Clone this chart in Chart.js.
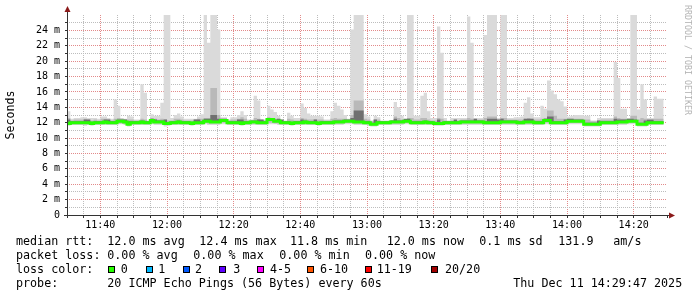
<!DOCTYPE html>
<html>
<head>
<meta charset="utf-8">
<script src="https://cdn.jsdelivr.net/npm/chart.js@4/dist/chart.umd.min.js"></script>
<style>
  html, body { margin: 0; padding: 0; background: #fff; }
  #wrap { position: relative; width: 697px; height: 297px; overflow: hidden; }
  #chart { position: absolute; left: 0; top: 0; }
  .t { position: absolute; font-family: 'DejaVu Sans Mono', monospace; font-size: 11.7px; line-height: 14px; height: 14px; color: #000; white-space: pre; }
  .box { position: absolute; width: 5px; height: 5px; border: 1px solid #000; }
  #wm { position: absolute; left: 693px; top: 5px; transform-origin: 0 0; transform: rotate(90deg);
        font-family: 'DejaVu Sans Mono', monospace; font-size: 8.3px; line-height: 10px; color: #b4b4b4; white-space: pre; }
</style>
</head>
<body>
<div id="wrap">
  <canvas id="chart" width="697" height="297"></canvas>
  <div id="legend"></div>
  <div id="wm">RRDTOOL / TOBI OETIKER</div>
</div>
<script>
// ---------- data (one value per minute, starting 11:30) ----------
const startTime = '11:30';
const xTickLabels = ['11:40','12:00','12:20','12:40','13:00','13:20','13:40','14:00','14:20'];
const yTickLabels = ['0','2 m','4 m','6 m','8 m','10 m','12 m','14 m','16 m','18 m','20 m','22 m','24 m'];

const medianRtt = [
  11.9,11.9,12.0,12.0,12.0,12.0,12.0,12.0,11.9,12.0,
  12.0,12.0,12.1,12.0,12.0,12.0,12.2,12.2,12.1,11.8,
  12.0,12.0,12.0,12.1,12.0,12.0,12.3,12.1,12.1,12.1,
  11.9,11.9,12.0,12.0,12.1,12.0,12.0,12.0,11.9,12.0,
  12.0,12.0,12.2,12.2,12.1,12.1,12.1,12.3,12.3,12.0,
  12.0,12.0,12.0,11.9,12.0,12.0,12.1,12.1,12.0,12.0,
  12.0,12.4,12.4,12.2,12.2,12.0,12.0,12.0,11.9,12.0,
  12.0,12.0,12.1,12.0,12.0,12.0,11.9,12.0,12.0,12.0,
  12.0,12.1,12.1,12.1,12.2,12.2,12.2,12.1,12.1,12.1,
  12.0,12.0,11.8,11.8,12.0,12.0,12.0,12.0,12.1,12.1,
  12.1,12.1,12.2,12.2,12.0,12.0,12.0,12.0,12.1,12.0,
  12.0,11.9,11.9,11.9,12.0,12.0,12.0,12.0,12.0,12.1,
  12.1,12.1,12.1,12.1,12.1,12.1,12.0,12.0,12.0,12.0,
  12.0,12.1,12.1,12.1,12.1,12.1,12.0,12.0,12.1,12.1,
  12.1,12.0,12.0,12.0,12.3,12.3,12.0,12.0,12.0,12.0,
  12.0,12.2,12.2,12.2,12.2,12.2,11.8,11.8,11.8,11.8,
  11.8,12.0,12.0,12.0,12.0,12.0,12.1,12.1,12.1,12.2,
  12.2,12.2,11.8,11.8,11.8,12.0,12.0,12.0,12.0
];
const pingMax = [
  13.8,13.5,12.5,12.6,12.6,12.7,12.7,12.6,12.6,12.6,
  12.5,12.8,12.8,12.6,12.5,15.0,14.2,12.6,12.5,12.9,
  12.8,12.4,12.4,17.0,15.9,12.3,13.1,12.9,12.9,14.6,
  26,26,12.6,13.0,13.2,12.8,12.5,12.5,12.5,12.5,
  12.8,13.1,26,22.4,26,26,24.1,12.7,12.7,12.4,
  12.7,12.7,13.0,13.5,13.0,12.4,12.4,15.5,14.9,12.4,
  12.4,14.2,13.7,13.4,12.9,12.3,12.3,13.3,12.9,12.6,
  12.6,14.5,13.9,13.2,12.9,12.9,12.9,12.8,12.4,12.4,
  13.5,14.6,14.2,13.7,13.0,12.5,24.1,26,26,26,
  13.1,12.8,12.3,12.9,12.7,12.3,12.3,12.3,12.3,14.7,
  14.0,12.9,12.3,26,26,12.9,12.9,15.5,15.9,13.5,
  12.6,12.6,24.5,21.1,12.6,12.3,12.6,12.6,12.6,12.6,
  12.6,25.8,22.4,12.6,12.6,12.6,23.4,26,26,26,
  12.6,26,26,12.6,12.6,12.7,12.7,12.8,14.6,15.3,
  13.2,12.7,12.7,14.2,13.8,17.5,16.2,15.7,15.0,14.8,
  14.1,12.8,12.9,13.0,13.0,13.0,12.9,12.9,12.3,12.3,
  12.6,12.6,12.6,12.6,12.6,19.9,17.8,13.8,13.8,12.6,
  26,26,13.7,17.0,15.0,12.6,12.6,15.4,15.1
];
const pingMin = [
  11.6,11.6,11.7,11.7,11.7,11.7,11.6,11.7,11.6,11.7,
  11.7,11.7,11.7,11.7,11.7,11.7,11.8,11.8,11.7,11.5,
  11.7,11.7,11.7,11.7,11.7,11.7,11.8,11.7,11.7,11.7,
  11.5,11.6,11.7,11.7,11.7,11.7,11.7,11.7,11.6,11.7,
  11.7,11.7,11.8,11.7,11.7,11.7,11.7,11.8,11.8,11.7,
  11.7,11.7,11.7,11.6,11.7,11.7,11.7,11.7,11.7,11.7,
  11.7,11.8,11.8,11.8,11.7,11.7,11.7,11.7,11.6,11.7,
  11.7,11.7,11.7,11.7,11.7,11.7,11.6,11.7,11.7,11.7,
  11.7,11.7,11.7,11.7,11.8,11.8,11.8,11.7,11.7,11.7,
  11.7,11.6,11.5,11.5,11.7,11.7,11.7,11.7,11.7,11.7,
  11.7,11.7,11.8,11.8,11.7,11.7,11.7,11.7,11.7,11.7,
  11.7,11.6,11.6,11.6,11.7,11.7,11.7,11.7,11.7,11.7,
  11.7,11.7,11.7,11.7,11.7,11.7,11.7,11.7,11.7,11.7,
  11.7,11.7,11.7,11.7,11.7,11.7,11.7,11.7,11.7,11.7,
  11.7,11.7,11.7,11.7,11.8,11.8,11.7,11.7,11.7,11.7,
  11.7,11.8,11.8,11.8,11.8,11.8,11.5,11.5,11.5,11.5,
  11.5,11.7,11.7,11.7,11.7,11.7,11.7,11.7,11.7,11.8,
  11.8,11.8,11.5,11.5,11.5,11.7,11.7,11.7,11.7
];
const smokeHigh = [
  12.6,12.6,12.3,12.4,12.4,12.4,12.5,12.4,12.3,12.4,
  12.3,12.5,12.5,12.4,12.3,12.5,12.6,12.5,12.4,12.4,
  12.4,12.3,12.3,12.5,12.4,12.2,12.6,12.5,12.4,12.5,
  12.4,12.3,12.3,12.5,12.5,12.4,12.3,12.3,12.3,12.4,
  12.5,12.5,12.6,12.6,16.5,16.5,13.0,12.5,12.5,12.3,
  12.4,12.4,12.5,12.7,12.5,12.3,12.3,12.6,12.5,12.3,
  12.3,12.7,12.6,12.5,12.5,12.2,12.2,12.5,12.4,12.3,
  12.3,12.6,12.5,12.4,12.4,12.4,12.4,12.4,12.3,12.3,
  12.5,12.6,12.5,12.5,12.5,12.4,13.0,14.9,14.9,14.9,
  12.5,12.4,12.2,12.4,12.4,12.2,12.2,12.2,12.3,12.8,
  12.6,12.4,12.4,12.6,12.6,12.4,12.4,12.6,12.6,12.4,
  12.3,12.3,12.6,12.5,12.3,12.2,12.3,12.3,12.3,12.4,
  12.4,12.6,12.5,12.4,12.4,12.4,12.6,12.8,12.8,12.8,
  12.4,12.6,12.6,12.4,12.4,12.4,12.4,12.4,12.5,12.6,
  12.5,12.4,12.4,12.5,12.6,13.6,13.6,12.9,12.5,12.5,
  12.5,12.5,12.5,12.5,12.5,12.5,12.4,12.4,12.2,12.2,
  12.3,12.4,12.4,12.4,12.4,12.8,12.6,12.5,12.5,12.4,
  12.9,12.9,12.4,12.6,12.5,12.3,12.3,12.5,12.5
];
const smokeLow = [
  11.7,11.7,11.8,11.8,11.8,11.8,11.8,11.8,11.7,11.8,
  11.8,11.8,11.9,11.8,11.8,11.8,11.9,11.9,11.8,11.6,
  11.8,11.8,11.8,11.9,11.8,11.8,12.0,11.9,11.9,11.9,
  11.7,11.7,11.8,11.8,11.9,11.8,11.8,11.8,11.7,11.8,
  11.8,11.8,12.0,11.9,11.9,11.9,11.9,12.0,12.0,11.8,
  11.8,11.8,11.8,11.7,11.8,11.8,11.9,11.9,11.8,11.8,
  11.8,12.0,12.0,11.9,11.9,11.8,11.8,11.8,11.7,11.8,
  11.8,11.8,11.9,11.8,11.8,11.8,11.7,11.8,11.8,11.8,
  11.8,11.9,11.9,11.9,12.0,12.0,12.0,11.9,11.9,11.9,
  11.8,11.8,11.6,11.6,11.8,11.8,11.8,11.8,11.9,11.9,
  11.9,11.9,12.0,12.0,11.8,11.8,11.8,11.8,11.9,11.8,
  11.8,11.7,11.7,11.7,11.8,11.8,11.8,11.8,11.8,11.9,
  11.9,11.9,11.9,11.9,11.9,11.9,11.8,11.8,11.8,11.8,
  11.8,11.9,11.9,11.9,11.9,11.9,11.8,11.8,11.9,11.9,
  11.9,11.8,11.8,11.8,12.0,12.0,11.8,11.8,11.8,11.8,
  11.8,12.0,12.0,12.0,12.0,12.0,11.6,11.6,11.6,11.6,
  11.6,11.8,11.8,11.8,11.8,11.8,11.9,11.9,11.9,12.0,
  12.0,12.0,11.6,11.6,11.6,11.8,11.8,11.8,11.8
];
const smokeCore = [
  12.4,12.4,12.2,12.2,12.2,12.2,12.4,12.4,12.1,12.2,
  12.2,12.2,12.4,12.4,12.2,12.2,12.4,12.4,12.4,12.2,
  12.2,12.2,12.2,12.3,12.2,12.2,12.5,12.4,12.3,12.3,
  12.4,12.1,12.2,12.2,12.3,12.2,12.2,12.2,12.1,12.4,
  12.4,12.2,12.5,12.5,13.0,13.0,12.5,12.5,12.5,12.2,
  12.2,12.2,12.4,12.4,12.2,12.2,12.3,12.3,12.4,12.4,
  12.2,12.6,12.6,12.4,12.5,12.4,12.2,12.2,12.1,12.2,
  12.2,12.4,12.3,12.2,12.2,12.4,12.1,12.2,12.2,12.2,
  12.2,12.3,12.3,12.3,12.4,12.4,12.6,13.6,13.6,13.6,
  12.2,12.2,12.0,12.4,12.2,12.2,12.2,12.2,12.3,12.5,
  12.3,12.3,12.5,12.5,12.2,12.2,12.2,12.2,12.3,12.2,
  12.2,12.1,12.4,12.1,12.2,12.2,12.2,12.4,12.2,12.3,
  12.3,12.3,12.3,12.5,12.3,12.3,12.2,12.5,12.5,12.5,
  12.4,12.5,12.3,12.3,12.3,12.3,12.2,12.2,12.5,12.5,
  12.5,12.2,12.2,12.2,12.5,12.8,12.8,12.2,12.2,12.2,
  12.4,12.5,12.5,12.4,12.4,12.4,12.0,12.0,12.0,12.0,
  12.3,12.2,12.2,12.2,12.2,12.5,12.4,12.4,12.4,12.5,
  12.5,12.4,12.0,12.0,12.3,12.4,12.4,12.2,12.2
];
const lossLegend = [
  ['0', '#26ff00'], ['1', '#00b8ff'], ['2', '#0059ff'], ['3', '#5e00ff'],
  ['4-5', '#ff00ff'], ['6-10', '#ff5500'], ['11-19', '#ff0000'], ['20/20', '#a10000']
];
const statsLines = [
  ['median rtt:', '12.0 ms avg', '12.4 ms max', '11.8 ms min', '12.0 ms now', '0.1 ms sd', '131.9', 'am/s'],
  ['packet loss:', '0.00 % avg', '0.00 % max', '0.00 % min', '0.00 % now'],
  ['probe:', '20 ICMP Echo Pings (56 Bytes) every 60s', 'Thu Dec 11 14:29:47 2025']
];
const totalMinutes = 180;

// ---------- legend (real text) ----------
const legend = document.getElementById('legend');
function addText(txt, left, centerY) {
  const d = document.createElement('div');
  d.className = 't'; d.textContent = txt;
  d.style.left = left + 'px'; d.style.top = (centerY - 7) + 'px';
  legend.appendChild(d);
}
const line1X = [16, 107.3, 199.3, 290, 386.7, 479.3, 558.3, 613.3];
statsLines[0].forEach((s, i) => addText(s, line1X[i], 241));
const line2X = [16, 107.3, 193.3, 279.3, 365];
statsLines[1].forEach((s, i) => addText(s, line2X[i], 255));
addText('loss color:', 16, 269);
const boxX = [108.3, 145.7, 182.7, 219.3, 256.7, 306.7, 365, 430.7];
const lblX = [120.7, 158.3, 195, 233.3, 270, 320, 376.7, 445];
lossLegend.forEach((e, i) => {
  const b = document.createElement('div');
  b.className = 'box'; b.style.background = e[1];
  b.style.left = boxX[i] + 'px'; b.style.top = '265.5px';
  legend.appendChild(b);
  addText(e[0], lblX[i], 269);
});
const line4X = [16, 107.3, 513.3];
statsLines[2].forEach((s, i) => addText(s, line4X[i], 283));

// ---------- chart ----------
const toPts = arr => {
  const pts = arr.map((v, i) => ({x: i, y: v}));
  pts.push({x: arr.length, y: arr[arr.length - 1]});
  return pts;
};
const MONO = "'DejaVu Sans Mono', monospace";
const MAJOR = '#e28a8a', MINOR = '#bdbdbd', CLEAR = 'rgba(0,0,0,0)';
const band = (data, color, fillTo) => ({
  data: toPts(data), stepped: 'after', pointRadius: 0, borderColor: CLEAR, borderWidth: 1,
  backgroundColor: color, fill: fillTo === undefined ? false : fillTo
});

const axisPlugin = {
  id: 'rrdAxes',
  afterDraw(chart) {
    const {ctx, chartArea: a} = chart;
    ctx.save();
    ctx.strokeStyle = '#333'; ctx.lineWidth = 1;
    ctx.beginPath();
    ctx.moveTo(a.left + 0.5, a.bottom + 3); ctx.lineTo(a.left + 0.5, a.top - 4);
    ctx.moveTo(a.left - 3, a.bottom + 0.5); ctx.lineTo(a.right + 3, a.bottom + 0.5);
    ctx.stroke();
    ctx.fillStyle = '#8b1a1a';
    ctx.beginPath();
    ctx.moveTo(a.left + 0.5, a.top - 9); ctx.lineTo(a.left - 2.5, a.top - 3); ctx.lineTo(a.left + 3.5, a.top - 3);
    ctx.closePath(); ctx.fill();
    ctx.beginPath();
    ctx.moveTo(a.right + 8, a.bottom + 0.5); ctx.lineTo(a.right + 2, a.bottom - 2.5); ctx.lineTo(a.right + 2, a.bottom + 3.5);
    ctx.closePath(); ctx.fill();
    ctx.restore();
  }
};

new Chart(document.getElementById('chart'), {
  type: 'line',
  data: {
    datasets: [
      {data: toPts(medianRtt), stepped: 'after', pointRadius: 0, borderColor: '#26ff00', borderWidth: 3, fill: false},
      band(smokeCore, '#707070', 0),
      band(smokeHigh, '#b9b9b9', 3),
      band(smokeLow, '#b9b9b9'),
      band(pingMax, '#dadada', 5),
      band(pingMin, '#dadada')
    ]
  },
  options: {
    responsive: false,
    animation: false,
    devicePixelRatio: 1,
    events: [],
    layout: {padding: {left: 0, top: 15, right: 30, bottom: 62}},
    plugins: {legend: {display: false}, tooltip: {enabled: false}},
    elements: {line: {tension: 0}},
    scales: {
      x: {
        type: 'linear', min: 0, max: totalMinutes, z: 1,
        afterFit: s => { s.height = 20; },
        border: {display: false, dash: [1, 1]},
        grid: {
          color: c => (c.tick.value === 0 || c.tick.value === totalMinutes) ? CLEAR : ((c.tick.value - 10) % 20 === 0 ? MAJOR : MINOR),
          tickColor: '#333', tickLength: 3, lineWidth: 1
        },
        ticks: {
          stepSize: 5, autoSkip: false, maxRotation: 0, minRotation: 0, padding: 1,
          color: '#000', font: {family: MONO, size: 10},
          callback: v => ((v - 10) % 20 === 0 ? (xTickLabels[(v - 10) / 20] || '') : '')
        }
      },
      y: {
        min: 0, max: 26, z: 1,
        afterFit: s => { s.width = 67; },
        border: {display: false, dash: [1, 1]},
        title: {display: true, text: 'Seconds', color: '#000', font: {family: MONO, size: 11.6}, padding: {top: 4, bottom: 0}},
        grid: {
          color: c => (c.tick.value === 0 || c.tick.value === 26) ? CLEAR : (c.tick.value % 2 === 0 ? MAJOR : MINOR),
          tickColor: c => c.tick.value === 26 ? CLEAR : '#333', tickLength: 2, lineWidth: 1
        },
        ticks: {
          stepSize: 1, autoSkip: false, padding: 5, color: '#000', font: {family: MONO, size: 10},
          callback: v => (v % 2 === 0 ? (yTickLabels[v / 2] || '') : '')
        }
      }
    }
  },
  plugins: [axisPlugin]
});
</script>
</body>
</html>
